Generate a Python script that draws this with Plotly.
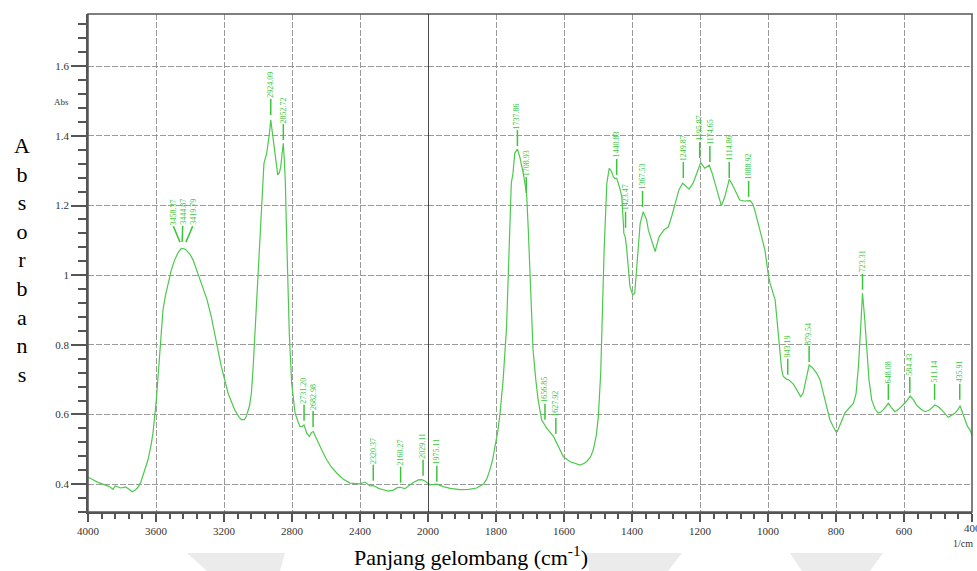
import numpy as np
import plotly.graph_objects as go

# ---------------- data ----------------
wavenumber = [
    4000, 3960, 3941, 3900, 3870, 3853, 3840, 3806, 3780, 3760, 3740, 3720, 3706, 3690, 3676,
    3660, 3647, 3630, 3618, 3598, 3578, 3559, 3545, 3529, 3510, 3490, 3470, 3451, 3435, 3422,
    3400, 3382, 3360, 3333, 3300, 3275, 3245, 3216, 3176, 3137, 3110, 3098, 3080, 3069, 3050,
    3039, 3028, 3018, 3008, 2998, 2988, 2978, 2965, 2949, 2939, 2932, 2925, 2916, 2906, 2895,
    2884, 2874, 2866, 2858, 2851, 2845, 2839, 2833, 2828, 2816, 2802, 2790, 2782, 2765, 2753,
    2740, 2729, 2712, 2698, 2686, 2675, 2660, 2645, 2620, 2596, 2570, 2537, 2500, 2459, 2420,
    2400, 2371, 2341, 2322, 2290, 2263, 2234, 2204, 2180, 2165, 2150, 2135, 2110, 2086, 2057,
    2037, 2018, 2000,
    1994, 1974, 1955, 1935, 1906, 1880, 1857, 1837, 1827, 1818, 1810, 1803, 1795, 1788, 1779,
    1769, 1764, 1759, 1755, 1750, 1745, 1737, 1730, 1720, 1710, 1705, 1701, 1691, 1683, 1676,
    1666, 1651, 1631, 1617, 1602, 1583, 1565, 1553, 1540, 1533, 1522, 1514, 1505, 1499, 1492,
    1489, 1482, 1474, 1467, 1460, 1455, 1450, 1445, 1437, 1430, 1426, 1424, 1420, 1416, 1406,
    1398, 1392, 1389, 1384, 1376, 1367, 1357, 1352, 1342, 1332, 1326, 1320, 1306, 1293, 1283,
    1274, 1262, 1251, 1240, 1232, 1220, 1210, 1198, 1186, 1173, 1165, 1157, 1147, 1137, 1127,
    1114, 1106, 1098, 1083, 1070, 1053, 1045, 1039, 1024, 1009, 999, 994, 979, 970, 965,
    960, 955, 945, 940, 926, 915, 908, 904, 897, 891, 885, 879, 870, 857, 847,
    837, 827, 818, 808, 800, 796, 785, 774, 760, 749, 741, 734, 728, 722, 716,
    710, 703, 695, 685, 676, 668, 661, 653, 646, 637, 627, 617, 607, 595, 582,
    572, 563, 550, 538, 525, 509, 499, 489, 478, 470, 460, 450, 443, 435, 428,
    420, 413, 406, 400,
]
absorbance = [
    0.420, 0.410, 0.405, 0.398, 0.392, 0.385, 0.395, 0.389, 0.392, 0.386, 0.378, 0.384, 0.391, 0.405, 0.427,
    0.445, 0.470, 0.510, 0.546, 0.642, 0.785, 0.900, 0.940, 0.977, 1.015, 1.044, 1.065, 1.077, 1.076, 1.072,
    1.060, 1.044, 1.015, 0.977, 0.930, 0.881, 0.810, 0.738, 0.661, 0.613, 0.592, 0.585, 0.585, 0.594, 0.625,
    0.661, 0.740, 0.834, 0.940, 1.044, 1.140, 1.216, 1.321, 1.350, 1.379, 1.410, 1.446, 1.410, 1.359, 1.320,
    1.288, 1.295, 1.312, 1.350, 1.379, 1.330, 1.264, 1.140, 1.025, 0.833, 0.690, 0.625, 0.604, 0.580, 0.565,
    0.566, 0.570, 0.545, 0.537, 0.548, 0.551, 0.535, 0.518, 0.493, 0.470, 0.450, 0.432, 0.415, 0.403, 0.401,
    0.401, 0.406, 0.395, 0.396, 0.388, 0.384, 0.380, 0.383, 0.390, 0.391, 0.388, 0.387, 0.397, 0.405, 0.412,
    0.413, 0.409, 0.402,
    0.398, 0.400, 0.393, 0.388, 0.384, 0.385, 0.389, 0.400, 0.415, 0.441, 0.470, 0.508, 0.550, 0.604, 0.700,
    0.850, 0.986, 1.120, 1.264, 1.293, 1.350, 1.362, 1.340, 1.293, 1.235, 1.130, 1.025, 0.785, 0.700, 0.642,
    0.585, 0.561, 0.537, 0.508, 0.479, 0.465, 0.458, 0.455, 0.460, 0.465, 0.478, 0.498, 0.540, 0.594, 0.720,
    0.833, 1.072, 1.264, 1.307, 1.297, 1.283, 1.278, 1.278, 1.254, 1.225, 1.159, 1.120, 1.110, 1.080, 0.967,
    0.943, 0.948, 0.986, 1.072, 1.149, 1.182, 1.159, 1.130, 1.101, 1.068, 1.090, 1.111, 1.130, 1.139, 1.170,
    1.206, 1.245, 1.264, 1.255, 1.247, 1.265, 1.293, 1.323, 1.307, 1.316, 1.295, 1.268, 1.235, 1.199, 1.225,
    1.275, 1.262, 1.245, 1.216, 1.213, 1.214, 1.205, 1.187, 1.130, 1.072, 1.000, 0.977, 0.929, 0.840, 0.790,
    0.730, 0.709, 0.701, 0.700, 0.688, 0.670, 0.655, 0.651, 0.660, 0.690, 0.720, 0.742, 0.735, 0.719, 0.700,
    0.661, 0.620, 0.585, 0.565, 0.550, 0.551, 0.575, 0.604, 0.620, 0.632, 0.660, 0.738, 0.840, 0.948, 0.880,
    0.785, 0.700, 0.642, 0.615, 0.604, 0.607, 0.613, 0.625, 0.632, 0.620, 0.608, 0.614, 0.623, 0.635, 0.653,
    0.642, 0.627, 0.615, 0.608, 0.613, 0.627, 0.622, 0.613, 0.602, 0.592, 0.598, 0.604, 0.612, 0.625, 0.605,
    0.580, 0.565, 0.556, 0.540,
]

# peak labels: text, wavenumber of the marker foot, wavenumber of the text, absorbance at marker foot
label_text = ["3458.37", "3444.87", "3419.79", "2924.09", "2852.72", "2731.20", "2682.98",
              "2320.37", "2160.27", "2029.11", "1975.11", "1737.86", "1708.93", "1656.85",
              "1627.92", "1440.83", "1423.47", "1367.53", "1249.87", "1195.87", "1174.65",
              "1114.86", "1088.92", "943.19", "879.54", "723.31", "648.08", "584.43",
              "511.14", "435.91"]
label_foot_wn = [3459, 3446, 3424, 2925, 2851, 2729, 2676, 2322, 2161, 2029, 1974, 1737, 1711, 1656,
                 1624, 1445, 1419, 1369, 1249, 1201, 1171, 1114, 1057, 942, 879, 722, 646, 583,
                 510, 436]
label_text_wn = [3498, 3443, 3384, 2925, 2851, 2729, 2676, 2322, 2161, 2029, 1974, 1737, 1711, 1656,
                 1624, 1445, 1419, 1369, 1249, 1201, 1171, 1114, 1057, 942, 879, 722, 646, 583,
                 510, 436]
label_foot_abs = [1.095, 1.095, 1.095, 1.460, 1.388, 0.582, 0.564, 0.410, 0.404, 0.424, 0.407,
                  1.371, 1.236, 0.585, 0.544, 1.288, 1.136, 1.196, 1.279, 1.336, 1.325, 1.279,
                  1.225, 0.714, 0.751, 0.958, 0.642, 0.662, 0.642, 0.642]

y_tickvals = [0.4, 0.6, 0.8, 1.0, 1.2, 1.4, 1.6]
y_ticktext = ["0.4", "0.6", "0.8", "1", "1.2", "1.4", "1.6"]
x_left_ticks = [4000, 3600, 3200, 2800, 2400]
x_right_ticks = [2000, 1800, 1600, 1400, 1200, 1000, 800, 600, 400]
BREAK = 2000
X_END = 400

# ---------------- styles ----------------
GREEN = "#4cc94c"
LABEL_GREEN = "#3cc43c"
GRID = "#9a9a9a"
AXC = "#555555"
TICKC = "#333333"
SERIF = "Liberation Serif"
W, H = 977, 571
ML, MR, MT, MB = 88, 5, 14, 59
PW, PH = W - ML - MR, H - MT - MB


def px(x):
    return (x - ML) / PW


def py(y):
    return (H - MB - y) / PH


wn = np.array(wavenumber, dtype=float)
ab = np.array(absorbance, dtype=float)
left = wn >= BREAK
right = wn <= BREAK

fig = go.Figure()
fig.add_trace(go.Scatter(x=wn[left], y=ab[left], mode="lines", xaxis="x", yaxis="y",
                         line=dict(color=GREEN, width=1.2), showlegend=False, hoverinfo="skip"))
fig.add_trace(go.Scatter(x=wn[right], y=ab[right], mode="lines", xaxis="x2", yaxis="y",
                         line=dict(color=GREEN, width=1.2), showlegend=False, hoverinfo="skip"))

split = (4000 - BREAK) / 400 * 68 / PW

common_x = dict(showline=True, linecolor=AXC, linewidth=1.5, ticks="outside", ticklen=8,
                tickcolor=AXC, tickwidth=1.5, showgrid=True, gridcolor=GRID, gridwidth=1,
                griddash="6px,2px", zeroline=False, automargin=False,
                tickfont=dict(family=SERIF, size=11, color=TICKC))

fig.update_layout(
    width=W, height=H,
    margin=dict(l=ML, r=MR, t=MT, b=MB, autoexpand=False),
    paper_bgcolor="white", plot_bgcolor="white",
    xaxis=dict(domain=[0, split], range=[4000, BREAK], tickmode="array",
               tickvals=x_left_ticks, ticktext=[str(v) for v in x_left_ticks], anchor="y",
               minor=dict(dtick=80, ticks="outside", ticklen=5, tickcolor=AXC, showgrid=False),
               **common_x),
    xaxis2=dict(domain=[split, 1], range=[BREAK, X_END], tickmode="array",
                tickvals=x_right_ticks, ticktext=[str(v) for v in x_right_ticks], anchor="y",
                minor=dict(dtick=40, ticks="outside", ticklen=5, tickcolor=AXC, showgrid=False),
                **common_x),
    yaxis=dict(range=[0.32, 1.75], tickmode="array", tickvals=y_tickvals, ticktext=y_ticktext,
               showline=True, linecolor=AXC, linewidth=1.5, ticks="outside", ticklen=15,
               tickcolor=AXC, tickwidth=1.5, showgrid=True, gridcolor=GRID, gridwidth=1,
               griddash="6px,2px", zeroline=False, automargin=False,
               minor=dict(dtick=0.04, ticks="outside", ticklen=8, tickcolor=AXC, showgrid=False),
               tickfont=dict(family=SERIF, size=11, color=TICKC)),
)

shapes = []
# faint watermark pieces along the bottom edge of the page
WM = "#ebebeb"
for poly in ([(187, 553), (285, 553), (280, 571), (207, 571)],
             [(587, 553), (682, 553), (668, 571), (589, 571)],
             [(790, 553), (883, 553), (870, 571), (802, 571)]):
    path = "M " + " L ".join(f"{px(a):.4f},{py(b):.4f}" for a, b in poly) + " Z"
    shapes.append(dict(type="path", xref="paper", yref="paper", path=path,
                       fillcolor=WM, line=dict(width=0), layer="below"))
# frame
shapes.append(dict(type="rect", xref="paper", yref="paper", x0=0, x1=1, y0=0, y1=1,
                   line=dict(color=AXC, width=1.5), layer="above"))
# black break line at 2000
shapes.append(dict(type="line", xref="x2", yref="paper", x0=BREAK, x1=BREAK, y0=0, y1=1,
                   line=dict(color="#111111", width=1.5), layer="above"))

annotations = []
for txt, fw, tw, fa in zip(label_text, label_foot_wn, label_text_wn, label_foot_abs):
    xr = "x" if fw > BREAK else "x2"
    shapes.append(dict(type="line", xref=xr, yref="y", ysizemode="pixel", yanchor=fa,
                       x0=fw, x1=tw, y0=0, y1=16, line=dict(color=LABEL_GREEN, width=1.5)))
    annotations.append(dict(x=tw, y=fa, xref=xr, yref="y", text=txt, showarrow=False,
                            textangle=-90, xanchor="center", yanchor="bottom", yshift=16,
                            borderpad=0,
                            font=dict(family=SERIF, size=8, color=LABEL_GREEN)))

# the last tick label ("400") sits on the page edge and is partly cut off there
annotations.append(dict(x=X_END, y=py(528), xref="x2", yref="paper", text=str(X_END),
                        showarrow=False, xanchor="center", yanchor="middle",
                        font=dict(family=SERIF, size=11, color=TICKC)))
annotations.append(dict(x=px(61), y=py(102), xref="paper", yref="paper", text="Abs",
                        showarrow=False, xanchor="center", yanchor="middle",
                        font=dict(family=SERIF, size=9, color=TICKC)))
annotations.append(dict(x=px(975), y=py(543), xref="paper", yref="paper", text="1/cm",
                        showarrow=False, xanchor="right", yanchor="middle",
                        font=dict(family=SERIF, size=10, color=TICKC)))
annotations.append(dict(x=px(22), y=py(260), xref="paper", yref="paper",
                        text="<br>".join(list("Absorbans")), showarrow=False,
                        xanchor="center", yanchor="middle", align="center",
                        font=dict(family=SERIF, size=22, color="black")))
annotations.append(dict(x=px(471), y=py(556), xref="paper", yref="paper",
                        text="Panjang gelombang (cm<sup>-1</sup>)", showarrow=False,
                        xanchor="center", yanchor="middle",
                        font=dict(family=SERIF, size=22, color="black")))

fig.update_layout(shapes=shapes, annotations=annotations)
fig.write_html("out.html")
